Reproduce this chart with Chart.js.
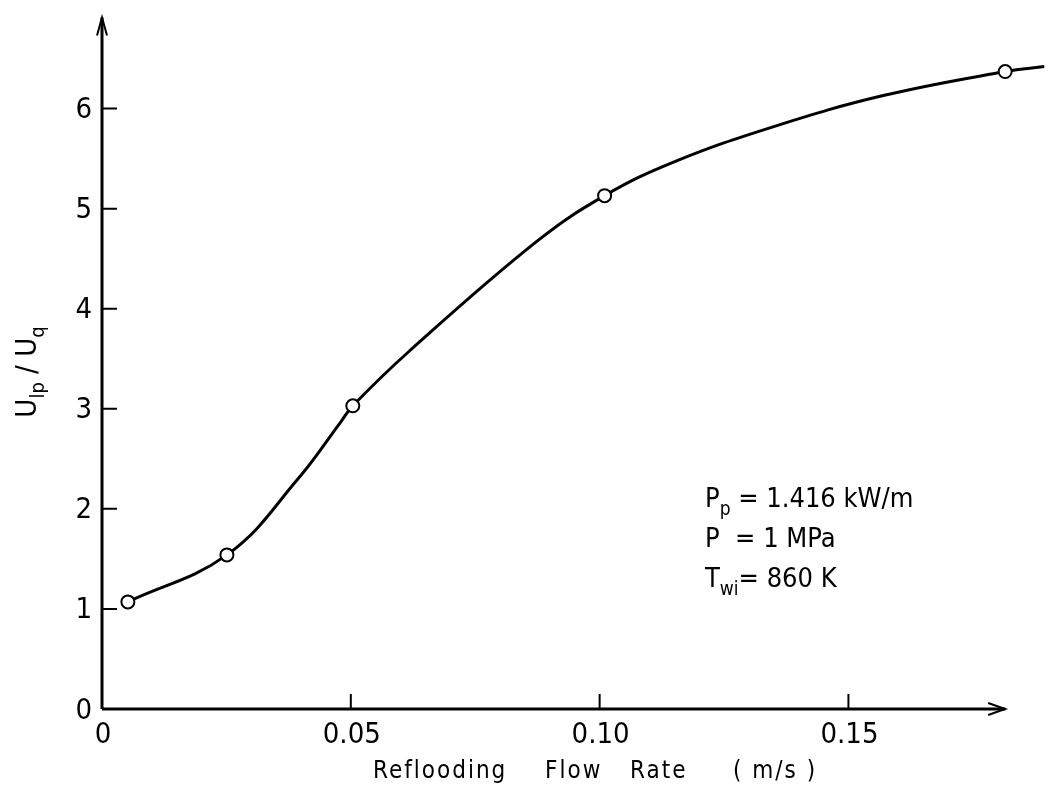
<!DOCTYPE html>
<html lang="en">
<head>
<meta charset="UTF-8">
<title>Reflooding Flow Rate</title>
<script src="https://cdn.jsdelivr.net/npm/chart.js"></script>
<style>
  body { margin: 0; background: #fff; }
  #wrap { width: 1053px; height: 808px; }
</style>
</head>
<body>
<div id="wrap"><canvas id="myChart" width="1053" height="808"></canvas></div>
<script>
// measured points (open circles)
const markerX = [0.0052, 0.0251, 0.0504, 0.101, 0.1815];
const markerY = [1.07, 1.54, 3.03, 5.13, 6.37];

// hand-drawn curve
const curveX = [0.0052, 0.0251, 0.0394, 0.048, 0.0504, 0.0614, 0.0873, 0.101, 0.1151, 0.135, 0.157, 0.1815, 0.1894];
const curveY = [1.07, 1.54, 2.30, 2.87, 3.03, 3.56, 4.67, 5.13, 5.47, 5.82, 6.13, 6.37, 6.42];

// axes
const xTicks = [0, 0.05, 0.10, 0.15];
const xTickLabels = ['0', '0.05', '0.10', '0.15'];
const yTicks = [0, 1, 2, 3, 4, 5, 6];
const yTickLabels = ['0', '1', '2', '3', '4', '5', '6'];
const xAxisEnd = 0.1815;
const yAxisEnd = 6.91;

const FONT = '"Liberation Sans Narrow", "DejaVu Sans Condensed", "Liberation Sans", sans-serif';

function toXY(xs, ys) {
    return xs.map((x, i) => ({ x: x, y: ys[i] }));
}

// draws a list of [text, isSub] runs starting at x, returns end x
function drawRuns(ctx, runs, x, y, size, subSize) {
    runs.forEach(r => {
        const sub = r[1];
        ctx.font = (sub ? subSize : size) + 'px ' + FONT;
        ctx.fillText(r[0], x, sub ? y + size * 0.28 : y);
        x += ctx.measureText(r[0]).width;
    });
    return x;
}

function runsWidth(ctx, runs, size, subSize) {
    let w = 0;
    runs.forEach(r => {
        ctx.font = (r[1] ? subSize : size) + 'px ' + FONT;
        w += ctx.measureText(r[0]).width;
    });
    return w;
}

const axesPlugin = {
    id: 'axesPlugin',
    afterDraw(chart) {
        const ctx = chart.ctx;
        const xs = chart.scales.x;
        const ys = chart.scales.y;
        const x0 = xs.getPixelForValue(0);
        const y0 = ys.getPixelForValue(0);
        const xEnd = xs.getPixelForValue(xAxisEnd);
        const yEnd = ys.getPixelForValue(yAxisEnd);

        ctx.save();
        ctx.strokeStyle = '#000';
        ctx.fillStyle = '#000';
        ctx.lineWidth = 3;
        ctx.lineCap = 'butt';

        // axis lines
        ctx.beginPath();
        ctx.moveTo(x0, y0);
        ctx.lineTo(xEnd, y0);
        ctx.moveTo(x0, y0);
        ctx.lineTo(x0, yEnd);
        ctx.stroke();

        // arrow heads
        ctx.lineWidth = 2;
        ctx.beginPath();
        ctx.moveTo(xEnd - 17, y0 - 6);
        ctx.lineTo(xEnd, y0);
        ctx.lineTo(xEnd - 17, y0 + 6);
        ctx.moveTo(x0 - 5, yEnd + 18);
        ctx.lineTo(x0, yEnd);
        ctx.lineTo(x0 + 5, yEnd + 18);
        ctx.stroke();

        // ticks (inward)
        ctx.lineWidth = 2;
        ctx.beginPath();
        xTicks.forEach(v => {
            if (v === 0) return;
            const px = xs.getPixelForValue(v);
            ctx.moveTo(px, y0);
            ctx.lineTo(px, y0 - 15);
        });
        yTicks.forEach(v => {
            if (v === 0) return;
            const py = ys.getPixelForValue(v);
            ctx.moveTo(x0, py);
            ctx.lineTo(x0 + 15, py);
        });
        ctx.stroke();

        // tick labels
        ctx.font = '29px ' + FONT;
        ctx.textAlign = 'center';
        ctx.textBaseline = 'middle';
        xTicks.forEach((v, i) => {
            ctx.fillText(xTickLabels[i], xs.getPixelForValue(v) + 1, y0 + 26);
        });
        ctx.textAlign = 'right';
        yTicks.forEach((v, i) => {
            ctx.fillText(yTickLabels[i], x0 - 10, ys.getPixelForValue(v) + 2);
        });

        // x axis title
        ctx.font = '24px ' + FONT;
        ctx.letterSpacing = '2px';
        ctx.textAlign = 'left';
        ctx.textBaseline = 'alphabetic';
        ctx.fillText('Reflooding', 373, 778);
        ctx.fillText('Flow', 545, 778);
        ctx.fillText('Rate', 630, 778);
        ctx.fillText('( m/s )', 733, 778);
        ctx.letterSpacing = '0px';

        // y axis title (rotated)
        const yRuns = [['U', false], ['lp', true], [' / ', false], ['U', false], ['q', true]];
        ctx.save();
        ctx.translate(36, 372);
        ctx.rotate(-Math.PI / 2);
        const w = runsWidth(ctx, yRuns, 29, 20);
        drawRuns(ctx, yRuns, -w / 2, 0, 29, 20);
        ctx.restore();

        // condition note
        ctx.textAlign = 'left';
        drawRuns(ctx, [['P', false], ['p', true], [' = 1.416 kW/m', false]], 705, 507, 27, 19);
        drawRuns(ctx, [['P  = 1 MPa', false]], 705, 547, 27, 19);
        drawRuns(ctx, [['T', false], ['wi', true], ['= 860 K', false]], 705, 587, 27, 19);

        ctx.restore();
    }
};

new Chart(document.getElementById('myChart').getContext('2d'), {
    type: 'line',
    data: {
        datasets: [{
            label: 'data',
            data: toXY(markerX, markerY),
            showLine: false,
            pointRadius: 6.5,
            pointBackgroundColor: '#fff',
            pointBorderColor: '#000',
            pointBorderWidth: 2
        }, {
            label: 'curve',
            data: toXY(curveX, curveY),
            borderColor: '#000',
            borderWidth: 3,
            pointRadius: 0,
            tension: 0.4,
            fill: false
        }]
    },
    options: {
        responsive: false,
        animation: false,
        layout: { padding: { left: 102, right: 0, top: 3, bottom: 99 } },
        scales: {
            x: { type: 'linear', min: 0, max: 0.1894, display: false },
            y: { type: 'linear', min: 0, max: 7.0, display: false }
        },
        plugins: {
            legend: { display: false },
            tooltip: { enabled: false }
        }
    },
    plugins: [axesPlugin]
});
</script>
</body>
</html>
